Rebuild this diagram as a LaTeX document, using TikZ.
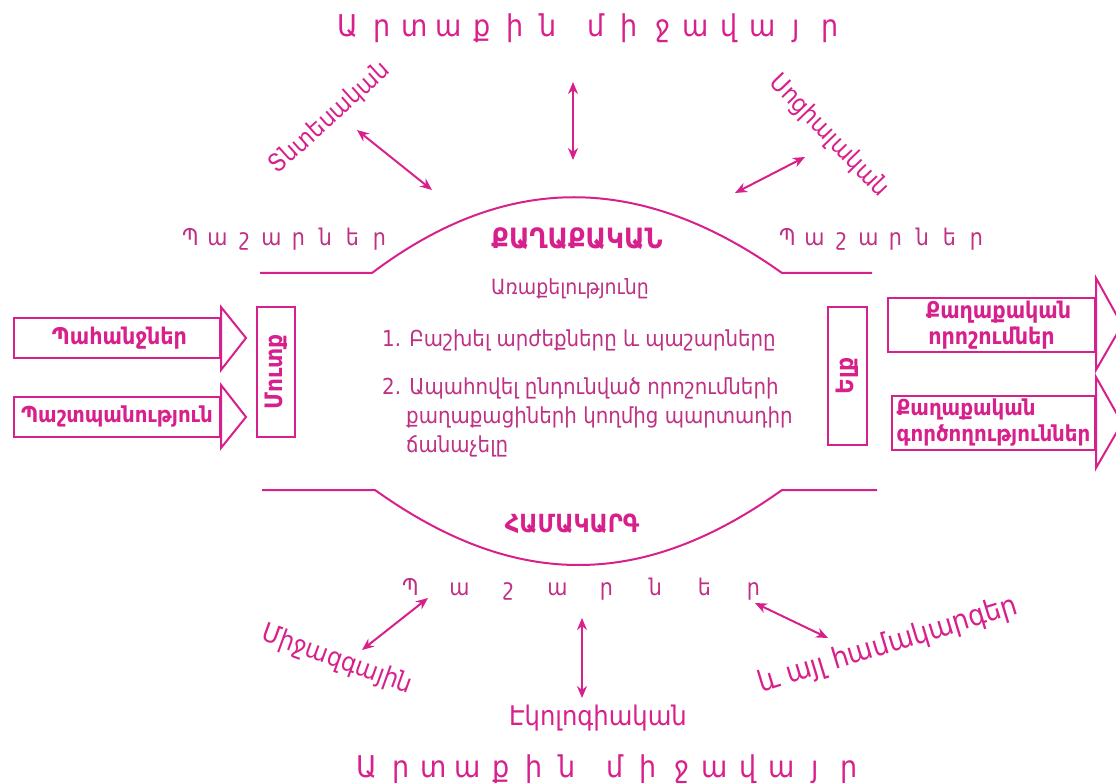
\documentclass[tikz,border=0pt]{standalone}
\usepackage{fontspec}
\setmainfont{DejaVu Sans Condensed}
\usetikzlibrary{arrows.meta}
\definecolor{mag}{RGB}{216,32,140}
\definecolor{txt}{RGB}{190,48,132}
\newlength\lsp
\def\ltsp#1#2{\setlength\lsp{#1}\ltspA#2\relax}
\def\ltspA#1{\ifx#1\relax\else\makebox[\lsp][c]{#1}\expandafter\ltspA\fi}
\begin{document}
\begin{tikzpicture}[x=1pt,y=-1pt,
  line/.style={draw=mag, line width=2pt},
  dbl/.style={draw=mag, line width=2pt, {Stealth[length=12pt,width=10pt]}-{Stealth[length=12pt,width=10pt]}},
  plain/.style={text=txt, inner sep=0pt},
  boldlbl/.style={text=mag, inner sep=0pt, font=\bfseries\fontsize{20}{25}\selectfont},
  arrbody/.style={draw=mag, line width=2pt, inner sep=0pt, text=mag, font=\bfseries\fontsize{23}{26}\selectfont, align=center},
  iobox/.style={draw=mag, line width=2pt, inner sep=0pt, text=mag, rotate=90, font=\bfseries\fontsize{24}{26}\selectfont},
  title/.style={text=mag, inner sep=0pt, anchor=base, font=\fontsize{30}{32}\selectfont},
  res/.style={text=txt, inner sep=0pt, anchor=base, font=\fontsize{23}{25}\selectfont},
  side/.style={text=mag, inner sep=0pt, font=\fontsize{25}{28}\selectfont},
  listtxt/.style={text=txt, inner sep=0pt, anchor=base west, font=\fontsize{22}{24}\selectfont}
]
\useasboundingbox (0,0) rectangle (1116,783);
\clip (0,0) rectangle (1116,783);

% titles
\node[title] (ttop) at (589,37) {\ltsp{33.4pt}{Արտաքին}\hspace{14pt}\ltsp{33.4pt}{միջավայր}};
\node[title] (tbot) at (608,777) {\ltsp{33.4pt}{Արտաքին}\hspace{14pt}\ltsp{33.4pt}{միջավայր}};

% resources
\node[res] (resL) at (285,246) {\ltsp{27pt}{Պաշարներ}};
\node[res] (resR) at (882,246) {\ltsp{27pt}{Պաշարներ}};
\node[res] (resB) at (582,595) {\ltsp{49pt}{Պաշարներ}};

% curves
\draw[line] (260,273) -- (372,273) .. controls (506,172) and (640,172) .. (782,273) -- (872,273);
\draw[line] (262,490) -- (375,490) .. controls (515,590) and (642,590) .. (782,490) -- (877,490);

\node[boldlbl, anchor=base, font=\bfseries\fontsize{28}{30}\selectfont] (pol) at (577,249) {ՔԱՂԱՔԱԿԱՆ};
\node[boldlbl, anchor=base, font=\bfseries\fontsize{25}{28}\selectfont] (sys) at (572,532) {ՀԱՄԱԿԱՐԳ};
\node[plain, anchor=base, font=\fontsize{21}{24}\selectfont] (mis) at (570,295) {Առաքելությունը};

% list
\node[listtxt] (l1) at (382,347) {1. Բաշխել արժեքները և պաշարները};
\node[listtxt] (l2) at (382,395) {2. Ապահովել ընդունված որոշումների};
\node[listtxt] (l3) at (406,423) {քաղաքացիների կողմից պարտադիր};
\node[listtxt] (l4) at (406,452) {ճանաչելը};

% input arrows
\node[arrbody, minimum width=206, minimum height=40] (dem) at (117,338) {\hspace*{5pt}Պահանջներ};
\draw[line, line join=miter] ([yshift=31pt]dem.east) -- ([xshift=25pt]dem.east) -- ([yshift=-32pt]dem.east) -- cycle;
\node[arrbody, minimum width=206, minimum height=40, font=\bfseries\fontsize{22}{26}\selectfont] (sup) at (117,417) {Պաշտպանություն};
\draw[line, line join=miter] ([yshift=32pt]sup.east) -- ([xshift=25pt]sup.east) -- ([yshift=-31pt]sup.east) -- cycle;

% input / output boxes
\node[iobox, minimum width=130, minimum height=38] (inbox) at (276,372) {Մուտք};
\node[iobox, minimum width=138, minimum height=39] (outbox) at (847.5,376) {Ելք};

% output arrows
\node[arrbody, minimum width=207, minimum height=54] (dec) at (991.5,325) {\hspace*{14pt}Քաղաքական\\որոշումներ};
\draw[line, line join=miter] ([yshift=47pt]dec.east) -- ([xshift=26pt]dec.east) -- ([yshift=-45pt]dec.east) -- cycle;
\node[arrbody, minimum width=203, minimum height=54, align=left, font=\bfseries\fontsize{22}{26}\selectfont] (act) at (993.5,423) {Քաղաքական\\գործողություններ};
\draw[line, line join=miter] ([yshift=46pt]act.east) -- ([xshift=26pt]act.east) -- ([yshift=-45pt]act.east) -- cycle;

% environment labels
\node[side, rotate=42] (eco) at (330,118) {Տնտեսական};
\node[side, rotate=-46] (soc) at (829,136) {Սոցիալական};
\node[side, rotate=-20, font=\fontsize{26}{28}\selectfont] (intl) at (337,660) {Միջազգային};
\node[side, anchor=base, font=\fontsize{27}{28}\selectfont] (ecol) at (598,725) {Էկոլոգիական};
\node[side, rotate=17, font=\fontsize{29}{30}\selectfont] (oth) at (888,645) {և այլ համակարգեր};

% double arrows
\coordinate (a1s) at (573,82);  \coordinate (a1e) at (573,160);
\coordinate (a2s) at (357,130); \coordinate (a2e) at (432,190);
\coordinate (a3s) at (805,157); \coordinate (a3e) at (735,193);
\coordinate (a4s) at (428,598); \coordinate (a4e) at (362,650);
\coordinate (a5s) at (582,618); \coordinate (a5e) at (582,698);
\coordinate (a6s) at (755,603); \coordinate (a6e) at (828,638);
\draw[dbl] (a1s) -- (a1e);
\draw[dbl] (a2s) -- (a2e);
\draw[dbl] (a3s) -- (a3e);
\draw[dbl] (a4s) -- (a4e);
\draw[dbl] (a5s) -- (a5e);
\draw[dbl] (a6s) -- (a6e);
\end{tikzpicture}
\end{document}
